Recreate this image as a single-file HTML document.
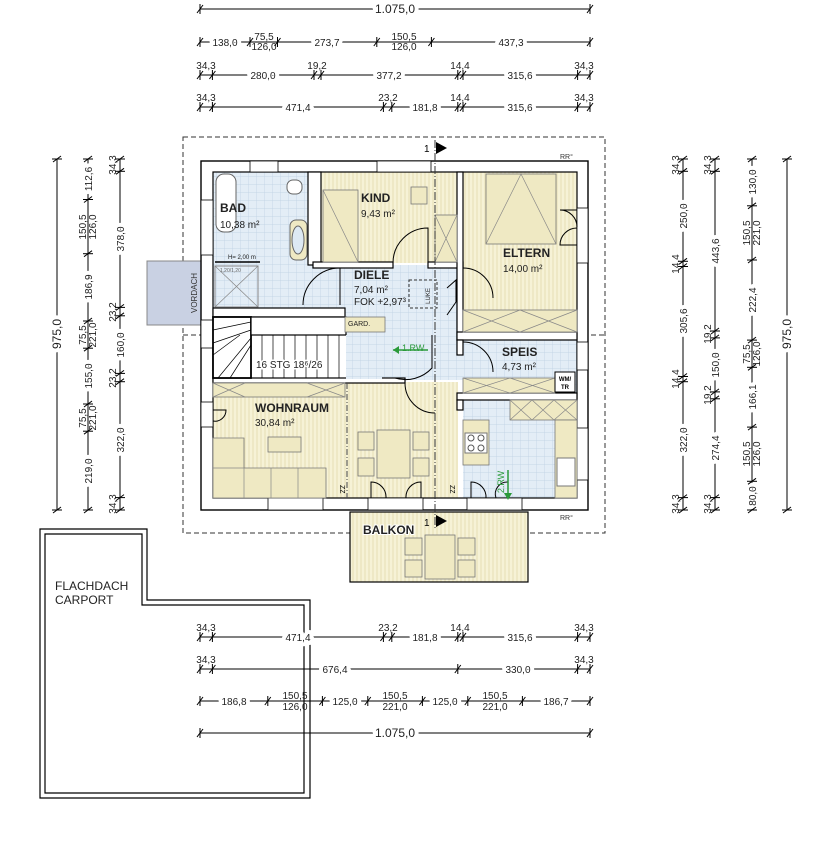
<!DOCTYPE html>
<html><head><meta charset="utf-8"><style>
html,body{margin:0;padding:0;background:#fff;}
svg{display:block;font-family:"Liberation Sans",sans-serif;}
.d{font-size:10px;text-anchor:middle;fill:#222;paint-order:stroke;stroke:#fff;stroke-width:8px;stroke-linejoin:round;}
.s{font-size:10px;text-anchor:middle;fill:#222;}
.dl line{stroke:#000;stroke-width:1;}
.w{fill:#fff;stroke:#000;stroke-width:1.2;}
.f{fill:#efe9c3;stroke:#777;stroke-width:0.8;}
.fx{stroke:#888;stroke-width:0.7;fill:none;}
.rn{font-size:12px;font-weight:bold;fill:#222;}
.ra{font-size:10px;fill:#222;}
</style></head><body>
<svg width="814" height="842" viewBox="0 0 814 842" xmlns="http://www.w3.org/2000/svg">
<defs>
<pattern id="st" width="4" height="10" patternUnits="userSpaceOnUse"><rect width="4" height="10" fill="#f6f2d6"/><line x1="1" y1="0" x2="1" y2="10" stroke="#e2d9ac" stroke-width="0.8"/></pattern>
<pattern id="gr" width="8" height="8" patternUnits="userSpaceOnUse"><rect width="8" height="8" fill="#e3edf6"/><path d="M0 0H8M0 0V8" stroke="#bccfe2" stroke-width="0.7"/></pattern>
<g id="th"><line x1="0" y1="-5" x2="0" y2="5" stroke="#000"/><line x1="-3" y1="4" x2="3" y2="-4" stroke="#000"/></g>
<g id="tv"><line x1="-5" y1="0" x2="5" y2="0" stroke="#000"/><line x1="-4" y1="3" x2="4" y2="-3" stroke="#000"/></g>
</defs>

<!-- carport -->
<path d="M40 529H147V600H310V798H40Z" fill="none" stroke="#000" stroke-width="1.2"/>
<path d="M45 534H142V605H304V793H45Z" fill="none" stroke="#000" stroke-width="1.2"/>
<text x="55" y="590" font-size="12" fill="#222">FLACHDACH</text>
<text x="55" y="604" font-size="12" fill="#222">CARPORT</text>

<!-- dashed outline -->
<rect x="183" y="137" width="422" height="396" fill="none" stroke="#333" stroke-dasharray="5,3"/>
<line x1="183" y1="335" x2="605" y2="335" stroke="#333" stroke-dasharray="5,3"/>

<!-- vordach -->
<rect x="147" y="261" width="54" height="64" fill="#c9d1e3" stroke="#888"/>
<text transform="translate(197,293) rotate(-90)" font-size="8" text-anchor="middle" fill="#333">VORDACH</text>

<!-- balcony -->
<rect x="350" y="512" width="178" height="70" fill="url(#st)" stroke="#000" stroke-width="1.2"/>
<rect x="425" y="535" width="30" height="44" class="f"/>
<rect x="405" y="538" width="17" height="17" class="f"/><rect x="405" y="560" width="17" height="17" class="f"/>
<rect x="458" y="538" width="17" height="17" class="f"/><rect x="458" y="560" width="17" height="17" class="f"/>

<!-- building outer walls -->
<rect x="201" y="161" width="387" height="349" fill="#fff" stroke="#000" stroke-width="1.4"/>

<!-- room fills -->
<rect x="213" y="172" width="100" height="136" fill="url(#gr)"/>
<rect x="313" y="265" width="150" height="115" fill="url(#gr)"/>
<rect x="321" y="172" width="136" height="91" fill="url(#st)"/>
<rect x="463" y="172" width="114" height="160" fill="url(#st)"/>
<rect x="463" y="340" width="114" height="53" fill="url(#gr)"/>
<rect x="213" y="382" width="245" height="116" fill="url(#st)"/>
<rect x="463" y="400" width="114" height="98" fill="url(#gr)"/>
<rect x="213" y="317" width="133" height="62" fill="#fff"/>

<rect x="213" y="172" width="364" height="326" fill="none" stroke="#000" stroke-width="1.2"/>

<!-- interior walls -->
<rect x="308" y="172" width="13" height="93" class="w"/>
<rect x="313" y="262" width="80" height="6" class="w"/>
<rect x="428" y="262" width="35" height="6" class="w"/>
<rect x="457" y="172" width="6" height="168" class="w"/>
<rect x="457" y="332" width="120" height="8" class="w"/>
<rect x="213" y="308" width="132" height="9" class="w"/>
<rect x="213" y="378" width="192" height="5" class="w"/>
<rect x="457" y="340" width="6" height="15" class="w"/>
<rect x="457" y="393" width="120" height="7" class="w"/>
<rect x="457" y="400" width="6" height="10" class="w"/>

<!-- windows -->
<rect x="250" y="161" width="28" height="11" fill="#fff" stroke="#000" stroke-width="0.8"/>
<rect x="377" y="161" width="54" height="11" fill="#fff" stroke="#000" stroke-width="0.8"/>
<rect x="577" y="208" width="11" height="55" fill="#fff" stroke="#000" stroke-width="0.8"/>
<rect x="577" y="342" width="11" height="28" fill="#fff" stroke="#000" stroke-width="0.8"/>
<rect x="577" y="428" width="11" height="52" fill="#fff" stroke="#000" stroke-width="0.8"/>
<rect x="201" y="200" width="12" height="55" fill="#fff" stroke="#000" stroke-width="0.8"/>
<rect x="201" y="320" width="12" height="28" fill="#fff" stroke="#000" stroke-width="0.8"/>
<rect x="201" y="402" width="12" height="25" fill="#fff" stroke="#000" stroke-width="0.8"/>
<rect x="268" y="498" width="55" height="12" fill="#fff" stroke="#000" stroke-width="0.8"/>
<rect x="368" y="498" width="55" height="12" fill="#fff" stroke="#000" stroke-width="0.8"/>
<rect x="467" y="498" width="55" height="12" fill="#fff" stroke="#000" stroke-width="0.8"/>

<!-- bad -->
<rect x="216" y="174" width="20" height="58" rx="8" fill="#fff" stroke="#666"/>
<rect x="287" y="180" width="15" height="14" rx="6" fill="#fff" stroke="#666"/>
<rect x="290" y="220" width="17" height="40" rx="6" fill="#efe9c3" stroke="#666"/>
<ellipse cx="298" cy="240" rx="6" ry="14" fill="#dde9f3" stroke="#666"/>
<rect x="215" y="266" width="43" height="41" fill="none" stroke="#888"/>
<path d="M215 266L258 307M258 266L215 307" class="fx"/>
<line x1="215" y1="262" x2="260" y2="262" stroke="#000" stroke-width="1.5"/>
<text x="228" y="259" font-size="6" fill="#222">H= 2,00 m</text>
<text x="220" y="272" font-size="5" fill="#666">1,20/1,20</text>
<text x="220" y="212" class="rn">BAD</text>
<text x="220" y="228" class="ra">10,38 m²</text>

<!-- kind -->
<rect x="323" y="190" width="35" height="72" class="f"/>
<path d="M323 190L358 262" class="fx"/>
<rect x="411" y="187" width="16" height="17" class="f"/>
<rect x="435" y="215" width="22" height="47" class="f"/>
<path d="M435 215L457 262M457 215L435 262" class="fx"/>
<path d="M428 263V228A35 35 0 0 0 393 263" fill="none" stroke="#000"/>
<text x="361" y="202" class="rn">KIND</text>
<text x="361" y="217" class="ra">9,43 m²</text>

<!-- eltern -->
<rect x="486" y="174" width="70" height="70" class="f"/>
<path d="M486 244L521 174L556 244" class="fx"/>
<rect x="463" y="310" width="114" height="22" class="f"/>
<path d="M463 310L520 332M520 310L463 332M520 310L577 332M577 310L520 332" class="fx"/>
<path d="M577 210H560A17 17 0 0 1 577 227M577 245H560A17 17 0 0 1 577 228" fill="none" stroke="#000"/>
<path d="M463 268A30 30 0 0 1 493 298" fill="none" stroke="#000"/>
<text x="503" y="257" class="rn">ELTERN</text>
<text x="503" y="272" class="ra">14,00 m²</text>

<!-- diele -->
<path d="M340 268A37 37 0 0 0 303 305" fill="none" stroke="#000"/>
<line x1="340" y1="268" x2="340" y2="305" stroke="#000"/>
<rect x="409" y="280" width="28" height="28" fill="none" stroke="#333" stroke-dasharray="3,2"/>
<text transform="translate(430,296) rotate(-90)" font-size="6" text-anchor="middle" fill="#222">LUKE</text>
<path d="M447 288L456 280V302L447 315" fill="none" stroke="#000"/>
<text x="354" y="279" class="rn">DIELE</text>
<text x="354" y="293" class="ra">7,04 m²</text>
<text x="354" y="305" class="ra">FOK +2,97³</text>

<!-- stair -->
<rect x="213" y="317" width="38" height="61" fill="#fff" stroke="#000" stroke-width="1.8"/>
<rect x="251" y="317" width="95" height="18" fill="#fff" stroke="#000" stroke-width="1.2"/>
<path d="M251 335V378M262 335V378M273 335V378M284 335V378M295 335V378M306 335V378M317 335V378M328 335V378M339 335V378M213 330L251 322M213 343L251 330M218 378L251 338M230 378L251 345M213 355L240 335" stroke="#000" stroke-width="0.7" fill="none"/>
<text x="256" y="368" font-size="10" fill="#222" paint-order="stroke" stroke="#fff" stroke-width="3">16 STG 18⁶/26</text>
<rect x="345" y="317" width="40" height="15" class="f"/>
<text x="348" y="326" font-size="7" fill="#222">GARD.</text>
<rect x="346" y="335" width="36" height="44" fill="url(#gr)"/>
<path d="M432 335V368A36 36 0 0 1 395 378" fill="none" stroke="#000"/>
<line x1="393" y1="350" x2="428" y2="350" stroke="#2a9a3a" stroke-width="1.5"/>
<path d="M393 350L399 346V354Z" fill="#2a9a3a"/>
<text x="402" y="351" font-size="9" fill="#2a9a3a">1.RW</text>

<!-- speis -->
<path d="M463 342A30 30 0 0 1 493 372" fill="none" stroke="#000"/>
<rect x="463" y="378" width="92" height="15" class="f"/>
<path d="M463 378L510 393M510 378L463 393M510 378L555 393M555 378L510 393" class="fx"/>
<rect x="555" y="372" width="20" height="20" fill="#fff" stroke="#000"/>
<text x="565" y="381" font-size="6" text-anchor="middle" font-weight="bold">WM/</text>
<text x="565" y="389" font-size="6" text-anchor="middle" font-weight="bold">TR</text>
<text x="502" y="356" class="rn">SPEIS</text>
<text x="502" y="370" class="ra">4,73 m²</text>

<!-- wohnraum -->
<rect x="213" y="383" width="132" height="14" class="f"/>
<path d="M213 383L245 397M245 383L213 397M307 383L345 397M345 383L307 397" class="fx"/>
<path d="M213 438H244V468H326V498H213Z" class="f"/>
<path d="M244 468V498M271 468V498M298 468V498M213 468H244" class="fx"/>
<rect x="268" y="437" width="33" height="15" class="f"/>
<rect x="377" y="430" width="33" height="48" class="f"/>
<rect x="358" y="432" width="16" height="18" class="f"/><rect x="358" y="458" width="16" height="18" class="f"/>
<rect x="413" y="432" width="16" height="18" class="f"/><rect x="413" y="458" width="16" height="18" class="f"/>
<line x1="347" y1="383" x2="347" y2="498" stroke="#444" stroke-dasharray="6,2,1,2"/>
<path d="M405 383A30 30 0 0 0 435 413" fill="none" stroke="#000"/>
<path d="M371 498V482A15 15 0 0 1 386 498M421 498V482A15 15 0 0 0 406 498" fill="none" stroke="#000"/>
<path d="M213 410H226A11 11 0 0 1 213 421" fill="none" stroke="#000"/>
<text x="255" y="412" class="rn">WOHNRAUM</text>
<text x="255" y="426" class="ra">30,84 m²</text>

<!-- kitchen -->
<rect x="510" y="400" width="67" height="20" class="f"/>
<path d="M510 400L532 420M532 400L510 420M532 400L554 420M554 400L532 420M554 400L577 420M577 400L554 420" class="fx"/>
<rect x="555" y="420" width="22" height="78" class="f"/>
<rect x="463" y="420" width="26" height="45" class="f"/>
<rect x="465" y="433" width="22" height="20" fill="#fff" stroke="#777"/>
<circle cx="471" cy="438" r="3" fill="none" stroke="#555"/><circle cx="481" cy="438" r="3" fill="none" stroke="#555"/>
<circle cx="471" cy="448" r="3" fill="none" stroke="#555"/><circle cx="481" cy="448" r="3" fill="none" stroke="#555"/>
<rect x="557" y="458" width="18" height="28" fill="#fff" stroke="#777"/>
<path d="M471 498V482A15 15 0 0 1 486 498M508 498V482A12 12 0 0 0 496 498" fill="none" stroke="#000"/>
<line x1="508" y1="470" x2="508" y2="495" stroke="#2a9a3a" stroke-width="1.5"/>
<path d="M508 500L504 493H512Z" fill="#2a9a3a"/>
<text transform="translate(504,482) rotate(-90)" font-size="9" text-anchor="middle" fill="#2a9a3a">2.RW</text>
<text x="343" y="488" font-size="7" transform="rotate(90,343,485)">ZZ</text>
<text x="453" y="488" font-size="7" transform="rotate(90,453,485)">ZZ</text>

<!-- section line -->
<line x1="435" y1="140" x2="435" y2="530" stroke="#333" stroke-dasharray="8,2,1,2"/>
<path d="M436 142L447 148L436 154Z" fill="#000"/>
<text x="424" y="152" font-size="10">1</text>
<path d="M436 515L447 521L436 527Z" fill="#000"/>
<text x="424" y="526" font-size="10">1</text>
<text x="363" y="534" class="rn" paint-order="stroke" stroke="#fff" stroke-width="2">BALKON</text>
<text x="560" y="159" font-size="7" fill="#333">RR°</text>
<text x="560" y="520" font-size="7" fill="#333">RR°</text>

<!-- HORIZONTAL DIMS -->
<g class="dl">
<line x1="200" y1="9" x2="590" y2="9"/>
<line x1="200" y1="42" x2="590" y2="42"/>
<line x1="200" y1="75" x2="590" y2="75"/>
<line x1="200" y1="107" x2="590" y2="107"/>
<line x1="200" y1="637" x2="590" y2="637"/>
<line x1="200" y1="669" x2="590" y2="669"/>
<line x1="200" y1="701" x2="590" y2="701"/>
<line x1="200" y1="733" x2="590" y2="733"/>
</g>
<use href="#th" x="200" y="9"/><use href="#th" x="590" y="9"/>
<text x="395" y="13" class="d" style="font-size:12px">1.075,0</text>
<use href="#th" x="200" y="42"/><use href="#th" x="250" y="42"/><use href="#th" x="277.5" y="42"/><use href="#th" x="376.8" y="42"/><use href="#th" x="431.4" y="42"/><use href="#th" x="590" y="42"/>
<text x="225" y="46" class="d">138,0</text><text x="264" y="40" class="s">75,5</text><text x="264" y="50" class="s">126,0</text>
<text x="327" y="46" class="d">273,7</text><text x="404" y="40" class="s">150,5</text><text x="404" y="50" class="s">126,0</text><text x="511" y="46" class="d">437,3</text>

<use href="#th" x="200" y="75"/><use href="#th" x="212.4" y="75"/><use href="#th" x="314" y="75"/><use href="#th" x="321" y="75"/><use href="#th" x="457.8" y="75"/><use href="#th" x="463" y="75"/><use href="#th" x="577.6" y="75"/><use href="#th" x="590" y="75"/>
<text x="206" y="69" class="s">34,3</text><text x="263" y="79" class="d">280,0</text><text x="317" y="69" class="s">19,2</text><text x="389" y="79" class="d">377,2</text><text x="460" y="69" class="s">14,4</text><text x="520" y="79" class="d">315,6</text><text x="584" y="69" class="s">34,3</text>

<use href="#th" x="200" y="107"/><use href="#th" x="212.4" y="107"/><use href="#th" x="383.4" y="107"/><use href="#th" x="391.8" y="107"/><use href="#th" x="457.8" y="107"/><use href="#th" x="463" y="107"/><use href="#th" x="577.6" y="107"/><use href="#th" x="590" y="107"/>
<text x="206" y="101" class="s">34,3</text><text x="298" y="111" class="d">471,4</text><text x="388" y="101" class="s">23,2</text><text x="425" y="111" class="d">181,8</text><text x="460" y="101" class="s">14,4</text><text x="520" y="111" class="d">315,6</text><text x="584" y="101" class="s">34,3</text>

<use href="#th" x="200" y="637"/><use href="#th" x="212.4" y="637"/><use href="#th" x="383.4" y="637"/><use href="#th" x="391.8" y="637"/><use href="#th" x="457.8" y="637"/><use href="#th" x="463" y="637"/><use href="#th" x="577.6" y="637"/><use href="#th" x="590" y="637"/>
<text x="206" y="631" class="s">34,3</text><text x="298" y="641" class="d">471,4</text><text x="388" y="631" class="s">23,2</text><text x="425" y="641" class="d">181,8</text><text x="460" y="631" class="s">14,4</text><text x="520" y="641" class="d">315,6</text><text x="584" y="631" class="s">34,3</text>

<use href="#th" x="200" y="669"/><use href="#th" x="212.4" y="669"/><use href="#th" x="457.8" y="669"/><use href="#th" x="577.6" y="669"/><use href="#th" x="590" y="669"/>
<text x="206" y="663" class="s">34,3</text><text x="335" y="673" class="d">676,4</text><text x="518" y="673" class="d">330,0</text><text x="584" y="663" class="s">34,3</text>

<use href="#th" x="200" y="701"/><use href="#th" x="267.8" y="701"/><use href="#th" x="322.4" y="701"/><use href="#th" x="367.8" y="701"/><use href="#th" x="422.4" y="701"/><use href="#th" x="467.8" y="701"/><use href="#th" x="522.4" y="701"/><use href="#th" x="590" y="701"/>
<text x="234" y="705" class="d">186,8</text><text x="295" y="699" class="s">150,5</text><text x="295" y="710" class="s">126,0</text>
<text x="345" y="705" class="d">125,0</text><text x="395" y="699" class="s">150,5</text><text x="395" y="710" class="s">221,0</text>
<text x="445" y="705" class="d">125,0</text><text x="495" y="699" class="s">150,5</text><text x="495" y="710" class="s">221,0</text>
<text x="556" y="705" class="d">186,7</text>
<use href="#th" x="200" y="733"/><use href="#th" x="590" y="733"/>
<text x="395" y="737" class="d" style="font-size:12px">1.075,0</text>

<!-- VERTICAL DIMS -->
<g class="dl">
<line x1="57" y1="159" x2="57" y2="510"/>
<line x1="88" y1="159" x2="88" y2="510"/>
<line x1="120" y1="159" x2="120" y2="510"/>
<line x1="683" y1="159" x2="683" y2="510"/>
<line x1="715" y1="159" x2="715" y2="510"/>
<line x1="752" y1="159" x2="752" y2="510"/>
<line x1="787" y1="159" x2="787" y2="510"/>
</g>
<use href="#tv" x="57" y="159"/><use href="#tv" x="57" y="510"/>
<text transform="translate(61,334) rotate(-90)" class="d" style="font-size:12px">975,0</text>
<use href="#tv" x="787" y="159"/><use href="#tv" x="787" y="510"/>
<text transform="translate(791,334) rotate(-90)" class="d" style="font-size:12px">975,0</text>

<use href="#tv" x="88" y="159"/><use href="#tv" x="88" y="199.5"/><use href="#tv" x="88" y="253.7"/><use href="#tv" x="88" y="321"/><use href="#tv" x="88" y="348.2"/><use href="#tv" x="88" y="404"/><use href="#tv" x="88" y="431.2"/><use href="#tv" x="88" y="510"/>
<g class="d">
<text transform="translate(92,179) rotate(-90)">112,6</text>
<text transform="translate(92,287) rotate(-90)">186,9</text>
<text transform="translate(92,376) rotate(-90)">155,0</text>
<text transform="translate(92,471) rotate(-90)">219,0</text>
<text transform="translate(124,239) rotate(-90)">378,0</text>
<text transform="translate(124,345) rotate(-90)">160,0</text>
<text transform="translate(124,440) rotate(-90)">322,0</text>
<text transform="translate(687,216) rotate(-90)">250,0</text>
<text transform="translate(687,321) rotate(-90)">305,6</text>
<text transform="translate(687,440) rotate(-90)">322,0</text>
<text transform="translate(719,251) rotate(-90)">443,6</text>
<text transform="translate(719,365) rotate(-90)">150,0</text>
<text transform="translate(719,448) rotate(-90)">274,4</text>
<text transform="translate(756,182) rotate(-90)">130,0</text>
<text transform="translate(756,300) rotate(-90)">222,4</text>
<text transform="translate(756,397) rotate(-90)">166,1</text>
<text transform="translate(756,496) rotate(-90)">80,0</text>
</g>
<g class="s">
<text transform="translate(86,227) rotate(-90)">150,5</text><text transform="translate(96,227) rotate(-90)">126,0</text>
<text transform="translate(86,335) rotate(-90)">75,5</text><text transform="translate(96,335) rotate(-90)">221,0</text>
<text transform="translate(86,418) rotate(-90)">75,5</text><text transform="translate(96,418) rotate(-90)">221,0</text>
<text transform="translate(750,233) rotate(-90)">150,5</text><text transform="translate(760,233) rotate(-90)">221,0</text>
<text transform="translate(750,354) rotate(-90)">75,5</text><text transform="translate(760,354) rotate(-90)">126,0</text>
<text transform="translate(750,454) rotate(-90)">150,5</text><text transform="translate(760,454) rotate(-90)">126,0</text>
<text transform="translate(116,165) rotate(-90)">34,3</text>
<text transform="translate(116,312) rotate(-90)">23,2</text>
<text transform="translate(116,378) rotate(-90)">23,2</text>
<text transform="translate(116,504) rotate(-90)">34,3</text>
<text transform="translate(679,165) rotate(-90)">34,3</text>
<text transform="translate(679,264) rotate(-90)">14,4</text>
<text transform="translate(679,379) rotate(-90)">14,4</text>
<text transform="translate(679,504) rotate(-90)">34,3</text>
<text transform="translate(711,165) rotate(-90)">34,3</text>
<text transform="translate(711,334) rotate(-90)">19,2</text>
<text transform="translate(711,395) rotate(-90)">19,2</text>
<text transform="translate(711,504) rotate(-90)">34,3</text>
</g>
<use href="#tv" x="120" y="159"/><use href="#tv" x="120" y="171.3"/><use href="#tv" x="120" y="307.4"/><use href="#tv" x="120" y="315.8"/><use href="#tv" x="120" y="373.4"/><use href="#tv" x="120" y="381.7"/><use href="#tv" x="120" y="497.6"/><use href="#tv" x="120" y="510"/>
<use href="#tv" x="683" y="159"/><use href="#tv" x="683" y="171.3"/><use href="#tv" x="683" y="261.3"/><use href="#tv" x="683" y="266.5"/><use href="#tv" x="683" y="376.5"/><use href="#tv" x="683" y="381.7"/><use href="#tv" x="683" y="497.6"/><use href="#tv" x="683" y="510"/>
<use href="#tv" x="715" y="159"/><use href="#tv" x="715" y="171.3"/><use href="#tv" x="715" y="331"/><use href="#tv" x="715" y="337.9"/><use href="#tv" x="715" y="391.9"/><use href="#tv" x="715" y="398.8"/><use href="#tv" x="715" y="497.6"/><use href="#tv" x="715" y="510"/>
<use href="#tv" x="752" y="159"/><use href="#tv" x="752" y="205.8"/><use href="#tv" x="752" y="260"/><use href="#tv" x="752" y="340.1"/><use href="#tv" x="752" y="367.3"/><use href="#tv" x="752" y="427.1"/><use href="#tv" x="752" y="481.3"/><use href="#tv" x="752" y="510"/>
</svg>
</body></html>
